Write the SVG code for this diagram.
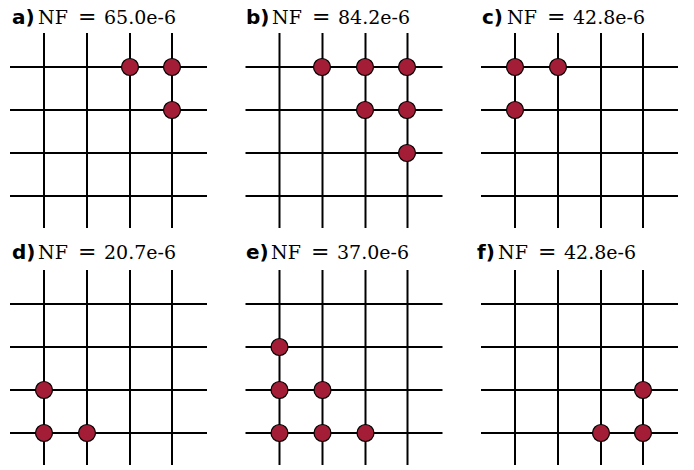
<svg xmlns="http://www.w3.org/2000/svg" width="694" height="470" viewBox="0 0 694 470">
<style>
.g line{stroke:#000;stroke-width:2}
.n circle{fill:#a31d36;stroke:#000;stroke-width:1.2}
.eq{font-size:22px}
</style>
<defs>
<g id="grid" class="g">
<line x1="44" y1="33" x2="44" y2="228"/>
<line x1="87" y1="33" x2="87" y2="228"/>
<line x1="130" y1="33" x2="130" y2="228"/>
<line x1="172" y1="33" x2="172" y2="228"/>
<line x1="10" y1="67" x2="207" y2="67"/>
<line x1="10" y1="110" x2="207" y2="110"/>
<line x1="10" y1="153" x2="207" y2="153"/>
<line x1="10" y1="196" x2="207" y2="196"/>
</g>
</defs>
<g id="connectors">
<use href="#grid"/>
<use href="#grid" transform="translate(235.5,0)"/>
<use href="#grid" transform="translate(471,0)"/>
<use href="#grid" transform="translate(0,237)"/>
<use href="#grid" transform="translate(235.5,237)"/>
<use href="#grid" transform="translate(471,237)"/>
</g>
<g id="labels" font-family="DejaVu Sans, sans-serif" font-weight="bold" font-size="20" fill="#000">
<text x="12" y="24">a)</text>
<text x="246" y="24">b)</text>
<text x="482" y="24">c)</text>
<text x="12" y="259">d)</text>
<text x="246" y="259">e)</text>
<text x="477" y="259">f)</text>
</g>
<g id="titles" font-family="DejaVu Serif, serif" font-size="19" fill="#000">
<text y="24"><tspan x="38">NF</tspan><tspan class="eq" x="78">=</tspan><tspan x="104">65.0e-6</tspan></text>
<text y="24"><tspan x="272">NF</tspan><tspan class="eq" x="312">=</tspan><tspan x="338">84.2e-6</tspan></text>
<text y="24"><tspan x="507">NF</tspan><tspan class="eq" x="547">=</tspan><tspan x="573">42.8e-6</tspan></text>
<text y="259"><tspan x="38">NF</tspan><tspan class="eq" x="78">=</tspan><tspan x="104">20.7e-6</tspan></text>
<text y="259"><tspan x="271">NF</tspan><tspan class="eq" x="311">=</tspan><tspan x="337">37.0e-6</tspan></text>
<text y="259"><tspan x="498">NF</tspan><tspan class="eq" x="538">=</tspan><tspan x="564">42.8e-6</tspan></text>
</g>
<g id="panel-a" class="n"><circle cx="130" cy="67" r="8.5"/><circle cx="172" cy="67" r="8.5"/><circle cx="172" cy="110" r="8.5"/></g>
<g id="panel-b" class="n"><circle cx="322" cy="67" r="8.5"/><circle cx="365" cy="67" r="8.5"/><circle cx="407" cy="67" r="8.5"/><circle cx="365" cy="110" r="8.5"/><circle cx="407" cy="110" r="8.5"/><circle cx="407" cy="153" r="8.5"/></g>
<g id="panel-c" class="n"><circle cx="515" cy="67" r="8.5"/><circle cx="558" cy="67" r="8.5"/><circle cx="515" cy="110" r="8.5"/></g>
<g id="panel-d" class="n"><circle cx="44" cy="390" r="8.5"/><circle cx="44" cy="433" r="8.5"/><circle cx="87" cy="433" r="8.5"/></g>
<g id="panel-e" class="n"><circle cx="279.5" cy="347" r="8.5"/><circle cx="279.5" cy="390" r="8.5"/><circle cx="322.5" cy="390" r="8.5"/><circle cx="279.5" cy="433" r="8.5"/><circle cx="322.5" cy="433" r="8.5"/><circle cx="365.5" cy="433" r="8.5"/></g>
<g id="panel-f" class="n"><circle cx="643" cy="390" r="8.5"/><circle cx="601" cy="433" r="8.5"/><circle cx="643" cy="433" r="8.5"/></g>
</svg>
